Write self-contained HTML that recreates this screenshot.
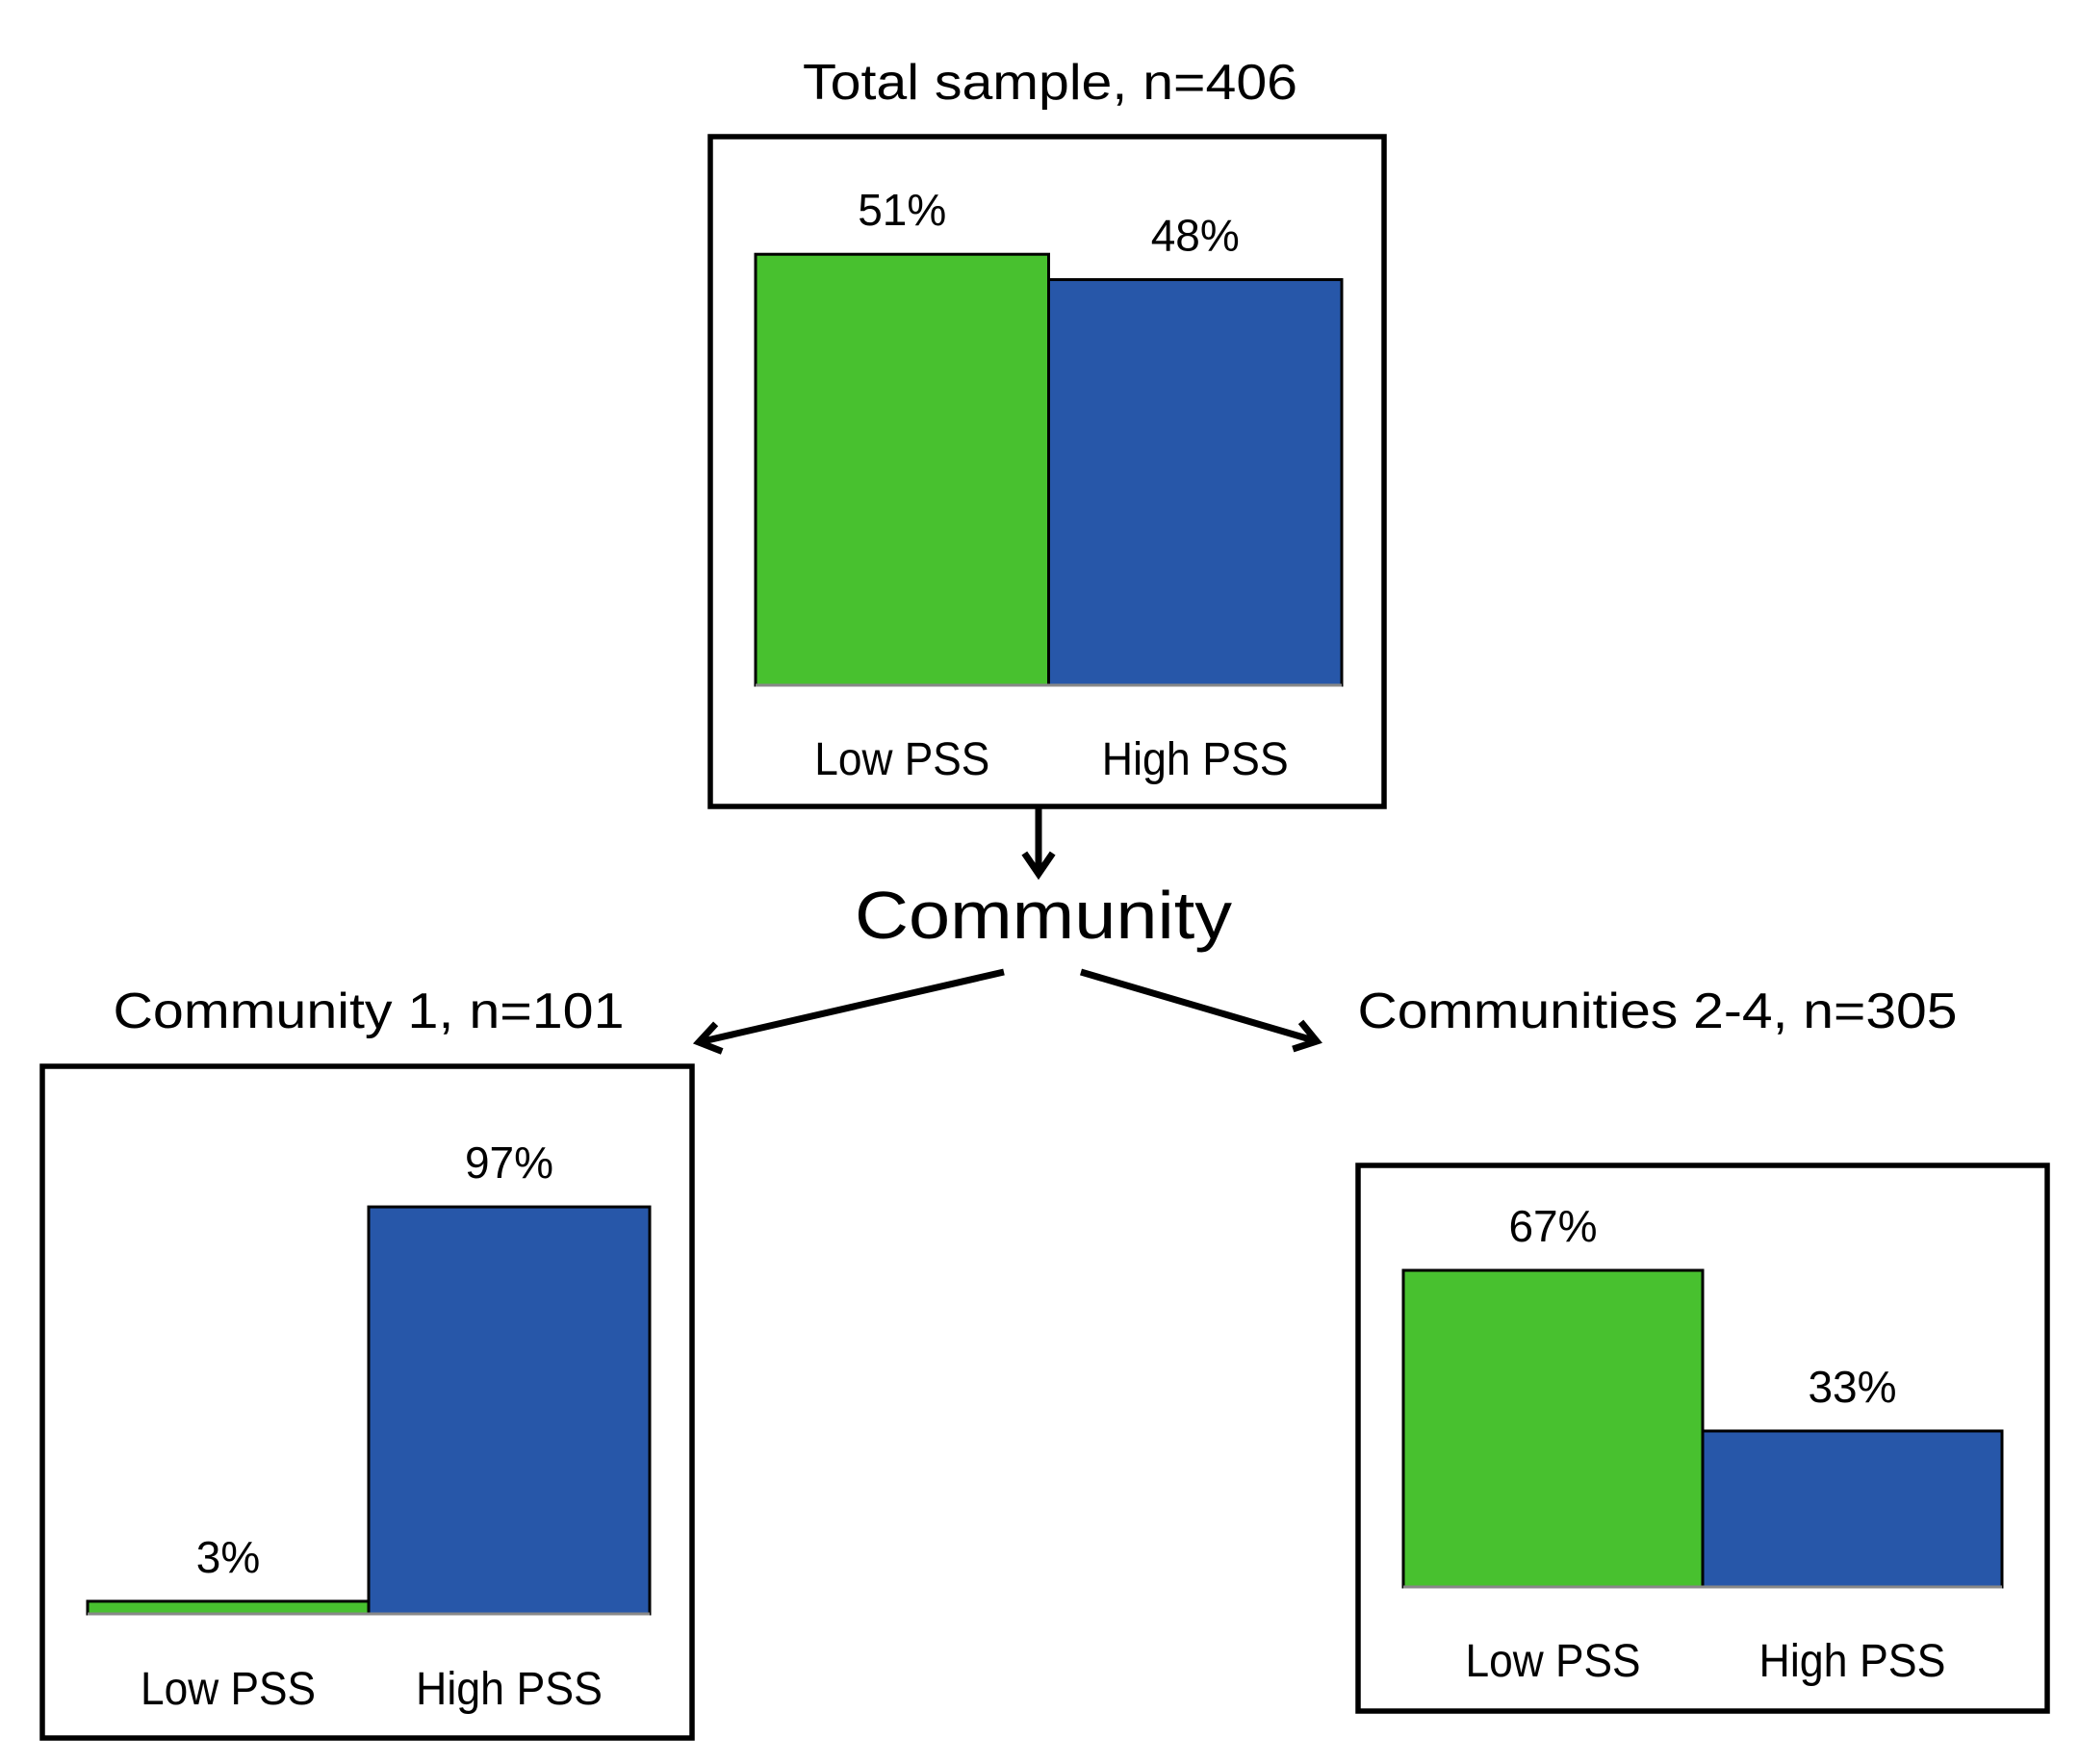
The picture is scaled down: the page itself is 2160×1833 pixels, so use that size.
<!DOCTYPE html>
<html><head><meta charset="utf-8"><style>
html,body{margin:0;padding:0;background:#fff;}
svg{display:block;font-family:"Liberation Sans",sans-serif;}
</style></head><body>
<svg id="c" width="2160" height="1833" viewBox="0 0 2160 1833" xmlns="http://www.w3.org/2000/svg">
<defs><marker id="ah" markerWidth="10" markerHeight="10" refX="6" refY="5" orient="auto" markerUnits="userSpaceOnUse"></marker></defs>
</svg>
<script>
const panelTitles = ["Total sample, n=406", "Community 1, n=101", "Communities 2-4, n=305"];
const categories = ["Low PSS", "High PSS"];
const lowValues = [51, 3, 67];
const highValues = [48, 97, 33];
const valueLabels = [["51%","48%"],["3%","97%"],["67%","33%"]];

const NS = "http://www.w3.org/2000/svg";
const svg = document.getElementById('c');
function mk(tag, attrs, parent){
  const e = document.createElementNS(NS, tag);
  for (const k in attrs) e.setAttribute(k, attrs[k]);
  (parent||svg).appendChild(e);
  return e;
}
// layout (geometry only)
const panels = [
  {box:[738,142,1438,838], x0:785, x1:1394, base:712, perPct:8.78, title:[1091,103,514], catY:805, key:'total'},
  {box:[44,1108,719,1806], x0:91, x1:675, base:1677, perPct:4.36, title:[383,1068,531], catY:1771, key:'community-1'},
  {box:[1411,1211,2127,1778], x0:1458, x1:2080, base:1649, perPct:4.91, title:[1722,1068,623], catY:1742, key:'communities-2-4'}
];
const colors = ["#48c12f", "#2757a9"];
const catWidths = [182, 194];

panels.forEach((p, i) => {
  const g = mk('g', {});
  
  
  const t = mk('text', {x:p.title[0], y:p.title[1], 'text-anchor':'middle', 'font-size':52, textLength:p.title[2], lengthAdjust:'spacingAndGlyphs', fill:'#000'}, g);
  t.textContent = panelTitles[i];
  
  
  const b = p.box;
  const r = mk('rect', {x:b[0], y:b[1], width:b[2]-b[0], height:b[3]-b[1], fill:'none', stroke:'#000', 'stroke-width':5.5}, g);
  
  
  const bw = (p.x1 - p.x0) / 2;
  const vals = [lowValues[i], highValues[i]];
  vals.forEach((v, j) => {
    const h = v * p.perPct;
    const x = p.x0 + j * bw;
    const bar = mk('rect', {x:x, y:p.base - h, width:bw, height:h, fill:colors[j], stroke:'#000', 'stroke-width':3}, g);
    
    
    const vl = mk('text', {x:x + bw/2, y:p.base - h - 30, 'text-anchor':'middle', 'font-size':46, fill:'#000'}, g);
    vl.textContent = valueLabels[i][j];
    
    
    const cl = mk('text', {x:x + bw/2, y:p.catY, 'text-anchor':'middle', 'font-size':48, textLength:catWidths[j], lengthAdjust:'spacingAndGlyphs', fill:'#000'}, g);
    cl.textContent = categories[j];
    
    
  });
  const bl = mk('line', {x1:p.x0, y1:p.base, x2:p.x1, y2:p.base, stroke:'#888', 'stroke-width':3}, g);
  
  
});

function arrow(x1,y1,x2,y2,name){
  const g = mk('g', {});
  
  
  mk('line', {x1:x1,y1:y1,x2:x2,y2:y2,stroke:'#000','stroke-width':7}, g);
  const a = Math.atan2(y2-y1, x2-x1), L = 26, w = 0.6;
  mk('polyline', {points:`${x2-L*Math.cos(a-w)},${y2-L*Math.sin(a-w)} ${x2},${y2} ${x2-L*Math.cos(a+w)},${y2-L*Math.sin(a+w)}`, fill:'none', stroke:'#000','stroke-width':7,'stroke-linejoin':'miter'}, g);
}
arrow(1079,838,1079,908,'down-arrow');
arrow(1043,1010,726,1083,'left-arrow');
arrow(1123,1010,1368,1082,'right-arrow');

const ct = mk('text', {x:1084, y:975, 'text-anchor':'middle', 'font-size':70, textLength:392, lengthAdjust:'spacingAndGlyphs', fill:'#000'});
ct.textContent = 'Community';


</script>
</body></html>
